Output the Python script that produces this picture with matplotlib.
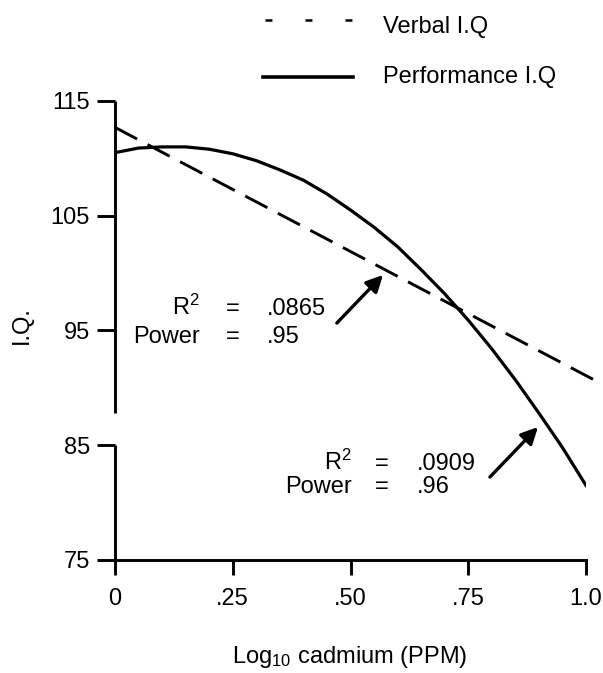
import matplotlib
matplotlib.use("Agg")
import matplotlib.pyplot as plt
from matplotlib.lines import Line2D

plt.rcParams["font.family"] = ["Liberation Sans", "DejaVu Sans"]
plt.rcParams["mathtext.fontset"] = "custom"
plt.rcParams["mathtext.rm"] = "Liberation Sans"
plt.rcParams["mathtext.default"] = "regular"
plt.rcParams["lines.scale_dashes"] = False

# values
log_cd = [0, .05, .1, .15, .2, .25, .3, .35, .4, .45, .5,
          .55, .6, .65, .7, .75, .8, .85, .9, .95, 1.0]
performance_iq = [110.5, 110.9, 111.0, 111.0, 110.8, 110.4, 109.8, 109.0, 108.1, 106.9, 105.5,
                  104.0, 102.3, 100.3, 98.2, 95.9, 93.4, 90.7, 87.8, 84.8, 81.5]
verbal_x = [0, 1.017]
verbal_iq = [112.7, 90.7]

x_ticks = [0, .25, .5, .75, 1.0]
x_tick_labels = ["0", ".25", ".50", ".75", "1.0"]
y_ticks = [75, 85, 95, 105, 115]

FS = 17
LW = 2.1

fig = plt.figure(figsize=(6.03, 6.73), dpi=100)
ax = fig.add_axes([115 / 603, 113 / 673, 471 / 603, 459 / 673])

ax.plot(verbal_x, verbal_iq, color="black", lw=LW, dashes=(18, 8.5), clip_on=False)
ax.plot(log_cd, performance_iq, color="black", lw=LW + 0.2, solid_joinstyle="round")

ax.set_xlim(0, 1.0)
ax.set_ylim(75, 115)

for s in ["top", "right", "left"]:
    ax.spines[s].set_visible(False)
ax.spines["bottom"].set_linewidth(LW)

# broken left axis
ax.plot([0, 0], [75, 85], color="black", lw=LW, clip_on=False, solid_capstyle="butt")
ax.plot([0, 0], [87.8, 115], color="black", lw=LW, clip_on=False, solid_capstyle="butt")

ax.set_xticks(x_ticks)
ax.set_xticklabels(x_tick_labels)
ax.set_yticks(y_ticks)
ax.tick_params(axis="x", direction="out", length=11, width=LW, pad=9, labelsize=FS)
ax.tick_params(axis="y", direction="out", length=13, width=LW, pad=5, labelsize=FS)

fig.text(350 / 603, 1 - 657 / 673, "Log$_{10}$ cadmium (PPM)", fontsize=FS,
         ha="center", va="center")
fig.text(22 / 603, 1 - 325 / 673, "I.Q.", fontsize=FS, rotation=90,
         ha="center", va="center")

# annotations
for xr, xe, xv, yb, r2, pw in [(0.180, 0.2505, 0.3227, (96.35, 93.91), ".0865", ".95"),
                               (0.503, 0.567, 0.641, (82.84, 80.84), ".0909", ".96")]:
    ax.text(xr, yb[0], "R$^2$", fontsize=FS, ha="right", va="baseline")
    ax.text(xe, yb[0], "=", fontsize=FS, ha="center", va="baseline")
    ax.text(xv, yb[0], r2, fontsize=FS, ha="left", va="baseline")
    ax.text(xr, yb[1], "Power", fontsize=FS, ha="right", va="baseline")
    ax.text(xe, yb[1], "=", fontsize=FS, ha="center", va="baseline")
    ax.text(xv, yb[1], pw, fontsize=FS, ha="left", va="baseline")

arrow = dict(arrowstyle="-|>", lw=2.4, color="black", mutation_scale=25,
             shrinkA=0, shrinkB=0)
ax.annotate("", xy=(0.569, 99.84), xytext=(0.471, 95.65), arrowprops=arrow)
ax.annotate("", xy=(0.898, 86.59), xytext=(0.796, 82.23), arrowprops=arrow)

# legend drawn by hand, top right
fig.add_artist(Line2D([265 / 603, 352 / 603], [1 - 20 / 673] * 2, color="black",
                      lw=1.8, dashes=(5.0, 23.8)))
fig.add_artist(Line2D([263 / 603, 353 / 603], [1 - 77 / 673] * 2, color="black",
                      lw=2.6))
fig.text(383 / 603, 1 - 33 / 673, "Verbal I.Q", fontsize=FS, ha="left", va="baseline")
fig.text(383 / 603, 1 - 83 / 673, "Performance I.Q", fontsize=FS, ha="left",
         va="baseline")

fig.savefig("out.png", dpi=100)
